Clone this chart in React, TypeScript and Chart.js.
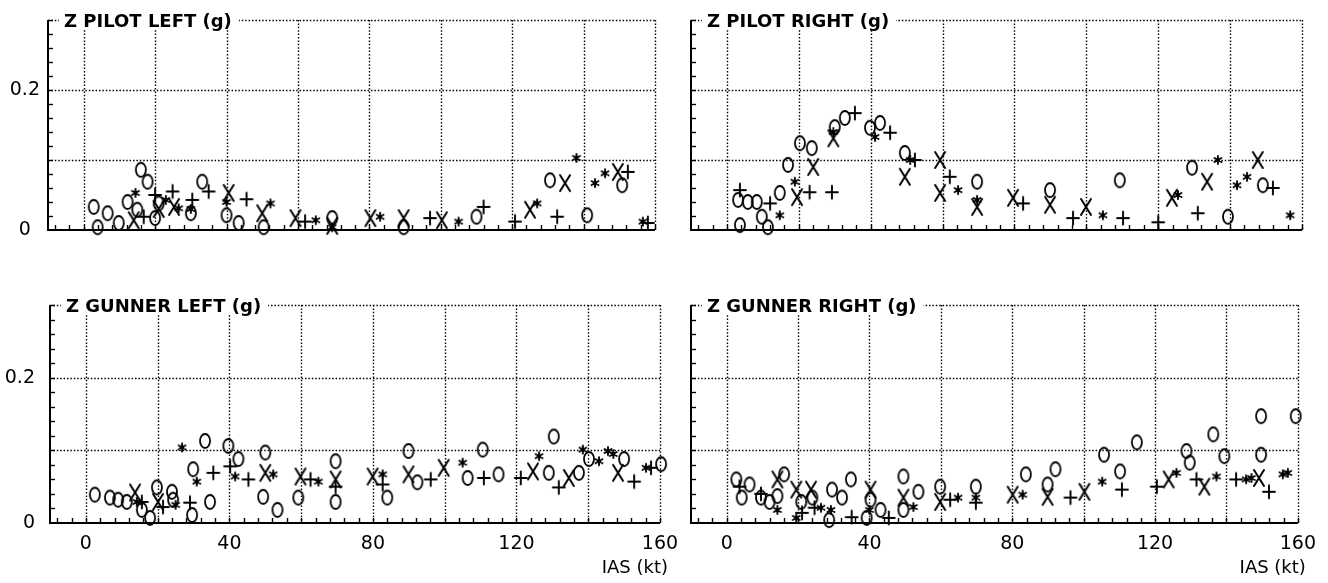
import React, { useEffect, useRef } from 'react';
import { Chart, registerables } from 'chart.js';

Chart.register(...registerables);

type Pt = [number, number];

// ---------------- data (IAS kt, g) ----------------
const pilotLeftCircle: Pt[] = [[2.8,0.033],[3.9,0.004],[6.7,0.024],[9.8,0.010],[12.3,0.040],[15,0.029],[16,0.086],[17.9,0.069],[20,0.017],[21,0.038],[30,0.024],[33.2,0.069],[40,0.021],[43.4,0.010],[50.4,0.004],[69.6,0.017],[89.6,0.004],[110,0.019],[130.6,0.071],[141,0.021],[150.8,0.064]];
const pilotLeftX: Pt[] = [[14,0.014],[21,0.03],[25.3,0.033],[40.6,0.053],[50,0.024],[59.3,0.017],[69.6,0.006],[80.3,0.017],[89.6,0.017],[100.3,0.014],[125,0.029],[134.8,0.067],[149.6,0.083]];
const pilotLeftPlus: Pt[] = [[16.8,0.019],[20,0.05],[24.9,0.055],[30.4,0.043],[35,0.055],[45.6,0.044],[62,0.012],[97,0.017],[112,0.033],[120.8,0.012],[132.6,0.019],[152.4,0.083],[158,0.01]];
const pilotLeftStar: Pt[] = [[14.5,0.053],[23,0.043],[26.6,0.031],[30,0.03],[40,0.04],[52.3,0.038],[65,0.014],[69.6,0.004],[83,0.019],[105,0.012],[127,0.038],[138,0.103],[143.2,0.067],[146,0.081],[156.6,0.012]];

const pilotRightCircle: Pt[] = [[3.1,0.043],[3.6,0.007],[5.8,0.04],[8.3,0.04],[9.7,0.019],[11.4,0.004],[14.7,0.053],[17,0.093],[20.3,0.124],[23.6,0.117],[30,0.147],[32.8,0.16],[39.8,0.146],[42.6,0.153],[49.5,0.11],[69.6,0.069],[89.9,0.057],[109.3,0.071],[129.4,0.089],[139.4,0.019],[149.1,0.064]];
const pilotRightX: Pt[] = [[19.5,0.047],[24,0.09],[29.6,0.131],[49.5,0.076],[59.3,0.1],[59.3,0.053],[69.6,0.033],[79.6,0.046],[89.9,0.036],[99.9,0.033],[123.8,0.046],[133.6,0.069],[147.7,0.1]];
const pilotRightPlus: Pt[] = [[3.6,0.057],[12,0.038],[23,0.054],[29.2,0.054],[35.6,0.167],[45.4,0.139],[52.3,0.1],[62,0.076],[82.4,0.038],[96.3,0.017],[110.2,0.017],[120,0.011],[131,0.024],[151.9,0.06]];
const pilotRightStar: Pt[] = [[14.7,0.021],[18.9,0.069],[29.6,0.14],[41.2,0.133],[51,0.1],[64.3,0.057],[69.6,0.043],[104.6,0.021],[125.5,0.05],[136.6,0.1],[141.9,0.064],[144.7,0.076],[156.7,0.021]];

const gunnerLeftCircle: Pt[] = [[2.5,0.039],[6.7,0.035],[9,0.032],[11.4,0.029],[15.6,0.018],[17.9,0.007],[19.8,0.049],[24,0.043],[24.3,0.032],[29.6,0.011],[29.9,0.074],[33.2,0.113],[34.6,0.029],[39.7,0.106],[42.5,0.088],[49.4,0.036],[50,0.097],[53.4,0.018],[59.2,0.035],[69.6,0.085],[69.6,0.029],[84,0.035],[89.9,0.099],[92.4,0.056],[106.4,0.062],[110.6,0.101],[115,0.067],[129,0.069],[130.4,0.119],[137.4,0.069],[140.2,0.088],[150,0.088],[160.3,0.081]];
const gunnerLeftX: Pt[] = [[13.7,0.042],[20.1,0.029],[50,0.069],[59.8,0.064],[69.6,0.06],[79.9,0.064],[89.9,0.067],[99.7,0.076],[124.6,0.071],[134.6,0.062],[148.3,0.069]];
const gunnerLeftPlus: Pt[] = [[15.6,0.029],[21.5,0.022],[29,0.028],[35.5,0.069],[40.2,0.078],[45.3,0.06],[62.6,0.06],[69.6,0.05],[82.7,0.053],[96.1,0.06],[110.9,0.062],[121.2,0.062],[131.8,0.049],[152.8,0.057],[157.5,0.076]];
const gunnerLeftStar: Pt[] = [[14.2,0.029],[25,0.025],[26.8,0.104],[30.9,0.057],[41.6,0.064],[52.2,0.067],[64.8,0.057],[82.7,0.067],[105,0.083],[126.3,0.092],[138.5,0.101],[143,0.085],[145.5,0.099],[147,0.095],[156.1,0.076]];

const gunnerRightCircle: Pt[] = [[2.7,0.06],[4.2,0.035],[6.4,0.053],[9.6,0.035],[12,0.029],[14.2,0.037],[16.1,0.067],[20.9,0.029],[24,0.035],[28.7,0.004],[29.5,0.046],[32.3,0.035],[34.8,0.06],[39.2,0.007],[40.3,0.032],[43.1,0.018],[49.5,0.064],[49.5,0.018],[53.7,0.043],[59.8,0.05],[69.8,0.05],[83.8,0.067],[89.9,0.053],[92.1,0.074],[105.7,0.094],[110.2,0.071],[114.9,0.111],[128.8,0.099],[129.7,0.083],[136.3,0.122],[139.4,0.092],[149.7,0.147],[149.7,0.094],[159.4,0.147]];
const gunnerRightX: Pt[] = [[14.2,0.06],[19.5,0.046],[23.6,0.046],[40.3,0.046],[49.5,0.035],[59.8,0.029],[80.1,0.039],[89.9,0.036],[100.2,0.043],[123.8,0.06],[133.8,0.05],[149.1,0.062]];
const gunnerRightPlus: Pt[] = [[3.6,0.05],[9.6,0.04],[21.1,0.014],[24.6,0.021],[35,0.008],[45.4,0.007],[62.6,0.032],[69.8,0.028],[96.3,0.035],[110.7,0.046],[120.5,0.05],[131.6,0.06],[142.7,0.06],[151.9,0.043]];
const gunnerRightStar: Pt[] = [[14.2,0.018],[19.5,0.007],[26.4,0.021],[29.2,0.018],[40,0.018],[52.3,0.022],[64.8,0.035],[69.8,0.035],[82.9,0.039],[105.2,0.057],[126,0.069],[137.2,0.064],[145.5,0.06],[147,0.062],[155.8,0.067],[157.2,0.069]];

const panelTitles = ['Z PILOT LEFT (g)', 'Z PILOT RIGHT (g)', 'Z GUNNER LEFT (g)', 'Z GUNNER RIGHT (g)'];
const xAxisTitle = 'IAS (kt)';
const xTickLabels = [0, 40, 80, 120, 160];
const yTickLabels = [0, 0.2];
const xGridLines = [0, 20, 40, 60, 80, 100, 120, 140, 160];
const yGridLines = [0.1, 0.2, 0.3];

// ---------------- markers ----------------
function makeMarker(kind: string): HTMLCanvasElement {
  const c = document.createElement('canvas');
  const w = 18, h = 22;
  c.width = w; c.height = h;
  const g = c.getContext('2d')!;
  g.strokeStyle = '#000';
  g.fillStyle = '#000';
  g.lineCap = 'round';
  const cx = w / 2, cy = h / 2;
  if (kind === 'o') {
    g.lineWidth = 1.8;
    g.beginPath(); g.ellipse(cx, cy, 5, 7, 0, 0, Math.PI * 2); g.stroke();
  } else if (kind === 'x') {
    g.lineWidth = 2;
    g.beginPath();
    g.moveTo(cx - 5, cy - 8); g.lineTo(cx + 5, cy + 8);
    g.moveTo(cx + 5, cy - 8); g.lineTo(cx - 5, cy + 8);
    g.stroke();
  } else if (kind === '+') {
    g.lineWidth = 1.9;
    g.beginPath();
    g.moveTo(cx - 6, cy); g.lineTo(cx + 6, cy);
    g.moveTo(cx, cy - 6.5); g.lineTo(cx, cy + 6.5);
    g.stroke();
  } else {
    g.lineWidth = 1.9;
    g.beginPath();
    for (let i = 0; i < 3; i++) {
      const a = (i * Math.PI) / 3 + Math.PI / 2;
      g.moveTo(cx + Math.cos(a) * 4, cy + Math.sin(a) * 4);
      g.lineTo(cx - Math.cos(a) * 4, cy - Math.sin(a) * 4);
    }
    g.stroke();
    g.beginPath(); g.arc(cx, cy, 2.2, 0, Math.PI * 2); g.fill();
  }
  return c;
}

interface PanelDef {
  title: string;
  l: number; t: number; r: number; b: number;
  yLabels: boolean; xLabels: boolean;
  yAlign: 'center' | 'near'; yPad: number; padRight: number;
  series: Pt[][];
}

const panels: PanelDef[] = [
  { title: panelTitles[0], l: 48, t: 20, r: 655, b: 230, yLabels: true, xLabels: false, yAlign: 'center', yPad: 8, padRight: 30,
    series: [pilotLeftCircle, pilotLeftX, pilotLeftPlus, pilotLeftStar] },
  { title: panelTitles[1], l: 691, t: 20, r: 1302, b: 230, yLabels: false, xLabels: false, yAlign: 'center', yPad: 8, padRight: 24,
    series: [pilotRightCircle, pilotRightX, pilotRightPlus, pilotRightStar] },
  { title: panelTitles[2], l: 50, t: 305, r: 660, b: 523, yLabels: true, xLabels: true, yAlign: 'near', yPad: 15, padRight: 30,
    series: [gunnerLeftCircle, gunnerLeftX, gunnerLeftPlus, gunnerLeftStar] },
  { title: panelTitles[3], l: 691, t: 305, r: 1302, b: 523, yLabels: false, xLabels: true, yAlign: 'near', yPad: 15, padRight: 24,
    series: [gunnerRightCircle, gunnerRightX, gunnerRightPlus, gunnerRightStar] },
];

const AXIS_W = 48;

const framePlugin = {
  id: 'frame',
  beforeDatasetsDraw(chart: any) {
    const { ctx, chartArea: a, scales } = chart;
    const x = scales.x, y = scales.y;
    ctx.save();
    // dotted grid
    ctx.strokeStyle = '#000';
    ctx.lineWidth = 1.4;
    ctx.setLineDash([1.5, 1.9]);
    for (const v of xGridLines) {
      const px = Math.round(x.getPixelForValue(v)) + 0.5;
      ctx.beginPath(); ctx.moveTo(px, a.top); ctx.lineTo(px, a.bottom); ctx.stroke();
    }
    for (const v of yGridLines) {
      const py = Math.round(y.getPixelForValue(v)) + 0.5;
      ctx.beginPath(); ctx.moveTo(a.left, py); ctx.lineTo(a.right, py); ctx.stroke();
    }
    ctx.setLineDash([]);
    // inward minor ticks
    ctx.lineWidth = 1.4;
    for (let v = -8; v <= 160; v += 4) {
      const px = Math.round(x.getPixelForValue(v)) + 0.5;
      ctx.beginPath(); ctx.moveTo(px, a.bottom); ctx.lineTo(px, a.bottom - 5); ctx.stroke();
    }
    for (let k = 1; k <= 15; k++) {
      const py = Math.round(y.getPixelForValue(k * 0.02)) + 0.5;
      ctx.beginPath(); ctx.moveTo(a.left, py); ctx.lineTo(a.left + 5, py); ctx.stroke();
    }
    // solid axes
    ctx.lineWidth = 2;
    ctx.beginPath();
    ctx.moveTo(a.left, a.top);
    ctx.lineTo(a.left, a.bottom);
    ctx.lineTo(a.right, a.bottom);
    ctx.stroke();
    ctx.restore();
  },
  afterDraw(chart: any, _args: any, opts: any) {
    const { ctx, chartArea: a } = chart;
    ctx.save();
    ctx.font = 'bold 18px "DejaVu Sans"';
    const w = ctx.measureText(opts.title).width;
    const tx = a.left + 16;
    ctx.fillStyle = '#fff';
    ctx.fillRect(tx - 5, a.top - 9, w + 12, 18);
    ctx.fillStyle = '#000';
    ctx.textAlign = 'left';
    ctx.textBaseline = 'alphabetic';
    ctx.fillText(opts.title, tx, a.top + 6.5);
    if (opts.xTitle) {
      ctx.font = '18px "DejaVu Sans"';
      ctx.textAlign = 'right';
      ctx.textBaseline = 'middle';
      ctx.fillText(opts.xTitle, a.right + 8, a.bottom + 45);
    }
    ctx.restore();
  },
};

function Panel({ def }: { def: PanelDef }) {
  const ref = useRef<HTMLCanvasElement | null>(null);
  const xH = def.xLabels ? 60 : 25;
  const padTop = def.t > 100 ? 40 : 20;
  const left = def.l - AXIS_W;
  const top = def.t - padTop;
  const width = def.r + def.padRight - left;
  const height = def.b + xH - top;

  useEffect(() => {
    const markers = ['o', 'x', '+', '*'].map(makeMarker);
    const tickFont = { family: 'DejaVu Sans', size: 19 };
    const chart = new Chart(ref.current!, {
      type: 'scatter',
      data: {
        datasets: def.series.map((pts, i) => ({
          label: ['O', 'X', '+', '*'][i],
          data: pts.map(([px, py]) => ({ x: px, y: py })),
          pointStyle: markers[i] as any,
          pointRadius: 6,
          showLine: false,
          clip: false as any,
        })),
      },
      plugins: [framePlugin as any],
      options: {
        responsive: false,
        animation: false,
        devicePixelRatio: 1,
        layout: { padding: { left: 0, top: padTop, right: def.padRight, bottom: 0 } },
        plugins: {
          legend: { display: false },
          tooltip: { enabled: false },
          frame: { title: def.title, xTitle: def.xLabels ? xAxisTitle : '' },
        } as any,
        scales: {
          x: {
            type: 'linear',
            min: -10,
            max: 160,
            grid: { display: false, drawTicks: false },
            border: { display: false },
            afterBuildTicks: (s: any) => { s.ticks = xTickLabels.map((v) => ({ value: v })); },
            afterFit: (s: any) => { s.height = xH; },
            ticks: {
              display: def.xLabels,
              padding: 10,
              color: '#000',
              font: tickFont,
              maxRotation: 0,
              autoSkip: false,
              callback: (v: any) => String(v),
            },
          },
          y: {
            type: 'linear',
            min: 0,
            max: 0.3,
            grid: { display: false, drawTicks: false },
            border: { display: false },
            afterBuildTicks: (s: any) => { s.ticks = yTickLabels.map((v) => ({ value: v })); },
            afterFit: (s: any) => { s.width = AXIS_W; },
            ticks: {
              display: def.yLabels,
              padding: def.yPad,
              crossAlign: def.yAlign,
              color: '#000',
              font: tickFont,
              callback: (v: any) => (Number(v) === 0 ? '0' : Number(v).toFixed(1)),
            },
          },
        },
      } as any,
    });
    return () => chart.destroy();
  }, []);

  return (
    <canvas
      ref={ref}
      width={width}
      height={height}
      style={{ position: 'absolute', left, top, width, height }}
    />
  );
}

export default function App() {
  return (
    <div style={{ position: 'absolute', left: 0, top: 0, width: 1328, height: 583, overflow: 'hidden', background: '#fff' }}>
      {panels.map((p) => (
        <Panel key={p.title} def={p} />
      ))}
    </div>
  );
}
